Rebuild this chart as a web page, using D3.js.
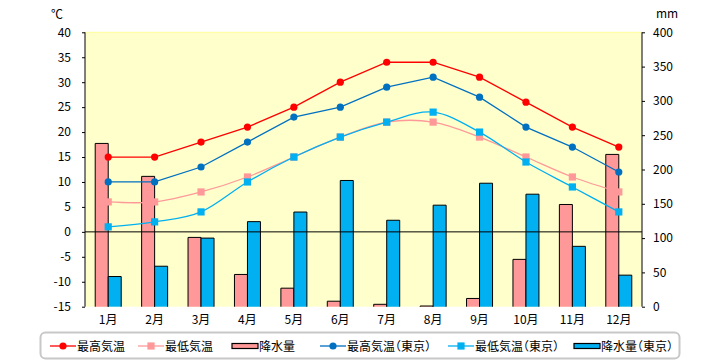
<!DOCTYPE html>
<html><head><meta charset="utf-8">
<script src="https://cdn.jsdelivr.net/npm/d3@7"></script>
<style>body{margin:0;background:#fff}svg{display:block}text{font-family:"Noto Sans CJK JP","Noto Sans",sans-serif}.lg{font-feature-settings:"halt" 1}</style>
</head><body><svg id="c" width="720" height="360"></svg>
<script>
const months = ["1月","2月","3月","4月","5月","6月","7月","8月","9月","10月","11月","12月"];
const maxTemp = [15,15,18,21,25,30,34,34,31,26,21,17];
const minTemp = [6,6,8,11,15,19,22,22,19,15,11,8];
const precip = [238,190,101,47,27,8,3.5,1,12,69,149,222];
const maxTempTokyo = [10,10,13,18,23,25,29,31,27,21,17,12];
const minTempTokyo = [1,2,4,10,15,19,22,24,20,14,9,4];
const precipTokyo = [44,59,100,124,138,184,126,148,180,164,88,46];
const tempTicks = [-15,-10,-5,0,5,10,15,20,25,30,35,40];
const precipTicks = [0,50,100,150,200,250,300,350,400];
const legendLabels = ["最高気温","最低気温","降水量","最高気温（東京）","最低気温（東京）","降水量（東京）"];

const svg = d3.select("#c");
const L=85,R=642,T=32.3,B=306.7;
const x = d3.scaleBand().domain(months).range([L,R]);
const yT = d3.scaleLinear().domain([-15,40]).range([B,T]);
const yP = d3.scaleLinear().domain([0,400]).range([B,T]);
const cx = m => x(m)+x.bandwidth()/2;
const bw = 13;

svg.append("rect").attr("x",L).attr("y",T).attr("width",R-L).attr("height",B-T).attr("fill","#FFFFCC");
svg.append("line").attr("x1",L).attr("x2",R).attr("y1",T).attr("y2",T).attr("stroke","#FFFF99");

// bars
function bars(data,color,off){
  const g = svg.append("g");
  data.forEach((v,i)=>{
    const x0 = cx(months[i])+off, y0 = yP(v);
    g.append("path").attr("d",`M${x0},${B}V${y0}H${x0+bw}V${B}`)
      .attr("fill",color).attr("stroke","#000").attr("stroke-width",1);
  });
}
bars(precip,"#FF9999",-bw);
bars(precipTokyo,"#00B0F0",0);

// zero line
svg.append("line").attr("x1",L).attr("x2",R).attr("y1",yT(0)).attr("y2",yT(0)).attr("stroke","#000");

// axes
const fmt = d => String(d);
const ax = svg.append("g").attr("transform",`translate(${L},0)`)
  .call(d3.axisLeft(yT).tickValues(tempTicks).tickSize(3).tickPadding(11).tickFormat(fmt));
const ay = svg.append("g").attr("transform",`translate(${R},0)`)
  .call(d3.axisRight(yP).tickValues(precipTicks).tickSize(3).tickPadding(8));
[ax,ay].forEach(a=>{
  a.select(".domain").attr("stroke","#000").attr("d",`M0,${T}V${B}`);
  a.selectAll("text").attr("font-size",12).attr("fill","#000");
  a.selectAll("line").attr("stroke","#000");
});
svg.append("text").attr("x",57).attr("y",19).attr("font-size",12).attr("text-anchor","middle").text("℃");
svg.append("text").attr("x",667).attr("y",18).attr("font-size",12).attr("text-anchor","middle").text("mm");

// x labels
svg.append("g").selectAll("text").data(months).join("text")
  .attr("x",d=>cx(d)).attr("y",324).attr("text-anchor","middle").attr("font-size",12).text(d=>d);

// lines
function series(data,color,marker,smooth){
  const line = d3.line().x((d,i)=>cx(months[i])).y(d=>yT(d))
    .curve(smooth?d3.curveCatmullRom.alpha(0):d3.curveLinear);
  svg.append("path").attr("d",line(data)).attr("fill","none").attr("stroke",color).attr("stroke-width",1.3);
  const g = svg.append("g");
  data.forEach((v,i)=>{
    if(marker==="c") g.append("circle").attr("cx",cx(months[i])).attr("cy",yT(v)).attr("r",3.6).attr("fill",color);
    else g.append("rect").attr("x",cx(months[i])-3.6).attr("y",yT(v)-3.6).attr("width",7.2).attr("height",7.2).attr("fill",color);
  });
}
series(maxTemp,"#FF0000","c",false);
series(minTemp,"#FF9999","s",true);
series(maxTempTokyo,"#0070C0","c",false);
series(minTempTokyo,"#00B0F0","s",true);

// legend
svg.append("rect").attr("x",40.5).attr("y",332.5).attr("width",639).attr("height",26).attr("rx",5)
  .attr("fill","#fff").attr("stroke","#C8C8C8").attr("stroke-width",2);
const items = [
  {x:50,type:"c",color:"#FF0000"},
  {x:138,type:"s",color:"#FF9999"},
  {x:232,type:"b",color:"#FF9999"},
  {x:320,type:"c",color:"#0070C0"},
  {x:448,type:"s",color:"#00B0F0"},
  {x:574,type:"b",color:"#00B0F0"}
];
const ly = 346;
items.forEach((it,i)=>{
  const g = svg.append("g");
  if(it.type==="b"){
    g.append("rect").attr("x",it.x).attr("y",ly-2.5).attr("width",26).attr("height",5).attr("fill",it.color).attr("stroke","#000").attr("stroke-width",1.2);
  } else {
    g.append("line").attr("x1",it.x).attr("x2",it.x+26).attr("y1",ly).attr("y2",ly).attr("stroke",it.color).attr("stroke-width",1.3);
    if(it.type==="c") g.append("circle").attr("cx",it.x+13).attr("cy",ly).attr("r",3.6).attr("fill",it.color);
    else g.append("rect").attr("x",it.x+9.4).attr("y",ly-3.6).attr("width",7.2).attr("height",7.2).attr("fill",it.color);
  }
  g.append("text").attr("class","lg").attr("x",it.x+27).attr("y",ly+4.5).attr("font-size",12).text(legendLabels[i]);
});
</script></body></html>
